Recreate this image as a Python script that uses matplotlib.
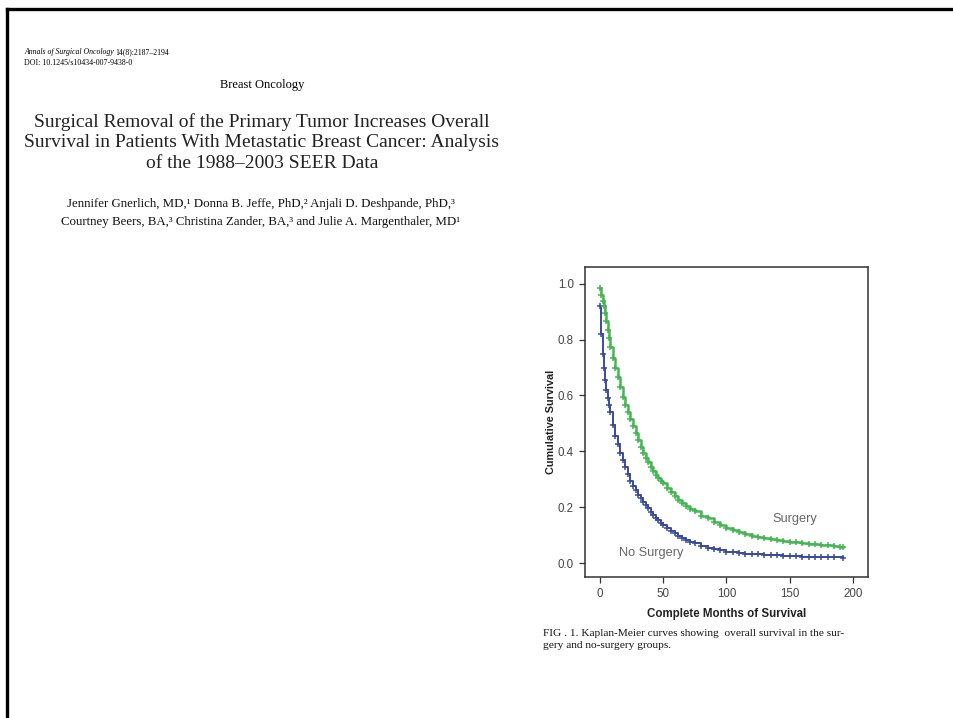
import matplotlib
matplotlib.use("Agg")
import matplotlib.pyplot as plt
from matplotlib.lines import Line2D

# Kaplan-Meier readings (months, cumulative survival)
surgery_months = [0, 1, 2, 3, 4, 5, 6, 7, 8, 10, 12, 14, 16, 18, 20, 22, 24, 26, 28,
                  30, 32, 34, 36, 38, 40, 42, 44, 46, 48, 50, 53, 56, 59, 62, 65, 68,
                  71, 75, 80, 85, 90, 95, 100, 105, 110, 115, 120, 125, 130, 135, 140,
                  145, 150, 155, 160, 165, 170, 175, 180, 185, 190, 192]
surgery_surv = [0.985, 0.96, 0.94, 0.92, 0.895, 0.865, 0.835, 0.805, 0.775, 0.735,
                0.70, 0.665, 0.63, 0.595, 0.565, 0.54, 0.515, 0.49, 0.465, 0.44,
                0.415, 0.395, 0.375, 0.36, 0.345, 0.33, 0.315, 0.305, 0.295, 0.285,
                0.27, 0.255, 0.24, 0.225, 0.215, 0.205, 0.195, 0.185, 0.17, 0.16,
                0.147, 0.137, 0.127, 0.118, 0.11, 0.104, 0.098, 0.093, 0.089, 0.085,
                0.082, 0.079, 0.076, 0.074, 0.071, 0.069, 0.067, 0.065, 0.063, 0.061,
                0.059, 0.058]

nosurg_months = [0, 1, 2, 3, 4, 5, 6, 7, 8, 10, 12, 14, 16, 18, 20, 22, 24, 26, 28,
                 30, 32, 34, 36, 38, 40, 42, 44, 46, 48, 50, 53, 56, 59, 62, 65, 68,
                 71, 75, 80, 85, 90, 95, 100, 105, 110, 115, 120, 125, 130, 135, 140,
                 145, 150, 155, 160, 165, 170, 175, 180, 185, 192]
nosurg_surv = [0.92, 0.82, 0.75, 0.70, 0.656, 0.62, 0.59, 0.565, 0.54, 0.495, 0.455,
               0.425, 0.395, 0.37, 0.345, 0.32, 0.295, 0.275, 0.26, 0.245, 0.232,
               0.22, 0.208, 0.196, 0.183, 0.172, 0.162, 0.153, 0.145, 0.137, 0.126,
               0.116, 0.106, 0.097, 0.09, 0.083, 0.077, 0.07, 0.062, 0.055, 0.05,
               0.045, 0.041, 0.038, 0.036, 0.034, 0.033, 0.031, 0.03, 0.028, 0.027,
               0.026, 0.025, 0.024, 0.023, 0.022, 0.021, 0.021, 0.02, 0.02, 0.019]

x_ticks = [0, 50, 100, 150, 200]
y_ticks = [0.0, 0.2, 0.4, 0.6, 0.8, 1.0]

GREEN = "#46b655"
BLUE = "#3a4b9e"
SERIF = "Liberation Serif"
SANS = "Liberation Sans"

W, H = 954, 718
fig = plt.figure(figsize=(W / 100, H / 100), dpi=100)


def fx(px):
    return px / W


def fy(py):
    return 1 - py / H


# page frame (top and left edges only)
fig.add_artist(Line2D([fx(7), 1], [fy(9), fy(9)], color="black", lw=2.4))
fig.add_artist(Line2D([fx(7), fx(7)], [fy(9), 0], color="black", lw=2.4))

# article header
journal = fig.text(fx(24), fy(52), "Annals of Surgical Oncology ", family=SERIF,
                   style="italic", fontsize=5.6, va="center")
renderer = fig.canvas.get_renderer()
jx = journal.get_window_extent(renderer).x1
fig.text(jx / W, fy(52), "14(8):2187–2194", family=SERIF, fontsize=5.6, va="center")
fig.text(fx(24), fy(63), "DOI: 10.1245/s10434-007-9438-0", family=SERIF, fontsize=5.7,
         va="center")
fig.text(fx(262), fy(85), "Breast Oncology", family=SERIF, fontsize=9,
         ha="center", va="center")

title_lines = ["Surgical Removal of the Primary Tumor Increases Overall",
               "Survival in Patients With Metastatic Breast Cancer: Analysis",
               "of the 1988–2003 SEER Data"]
for i, line in enumerate(title_lines):
    fig.text(fx(262), fy(122 + i * 20.5), line, family=SERIF, fontsize=14,
             ha="center", va="center", color="#222222")

author_lines = ["Jennifer Gnerlich, MD,¹ Donna B. Jeffe, PhD,² Anjali D. Deshpande, PhD,³",
                "Courtney Beers, BA,³ Christina Zander, BA,³ and Julie A. Margenthaler, MD¹"]
for i, line in enumerate(author_lines):
    fig.text(fx(261), fy(204 + i * 18), line, family=SERIF, fontsize=9.3,
             ha="center", va="center", color="#111111")

# Kaplan-Meier chart
ax = fig.add_axes([fx(585), fy(577), fx(868) - fx(585), fy(267) - fy(577)])
ax.step(nosurg_months, nosurg_surv, where="post", color=BLUE, lw=1.4,
        marker="+", markersize=4.5, markeredgewidth=1.1)
ax.step(surgery_months, surgery_surv, where="post", color=GREEN, lw=1.8,
        marker="+", markersize=4.5, markeredgewidth=1.1)

ax.set_xlim(-12, 212)
ax.set_ylim(-0.05, 1.06)
ax.set_xticks(x_ticks)
ax.set_yticks(y_ticks)
ax.set_yticklabels([f"{v:.1f}" for v in y_ticks])
ax.tick_params(direction="out", length=4, width=0.9, colors="#333333",
               labelsize=8.3, pad=4)
for lab in ax.get_xticklabels() + ax.get_yticklabels():
    lab.set_family(SANS)
    lab.set_color("#444444")
for sp in ax.spines.values():
    sp.set_color("#333333")
    sp.set_linewidth(1.1)

ax.set_xlabel("Complete Months of Survival", family=SANS, fontsize=8.3,
              fontweight="bold", color="#222222", labelpad=6)
ax.set_ylabel("Cumulative Survival", family=SANS, fontsize=7.8,
              fontweight="bold", color="#222222", labelpad=1)

ax.text(154, 0.158, "Surgery", family=SANS, fontsize=9.2, color="#666666",
        ha="center", va="center")
ax.text(40, 0.036, "No Surgery", family=SANS, fontsize=9.2, color="#666666",
        ha="center", va="center")

# figure caption
fig.text(fx(543), fy(634), "FIG . 1. Kaplan-Meier curves showing  overall survival in the sur-",
         family=SERIF, fontsize=8.2, va="center", color="#111111")
fig.text(fx(543), fy(646), "gery and no-surgery groups.", family=SERIF, fontsize=8.2,
         va="center", color="#111111")

fig.savefig("out.png", dpi=100)
